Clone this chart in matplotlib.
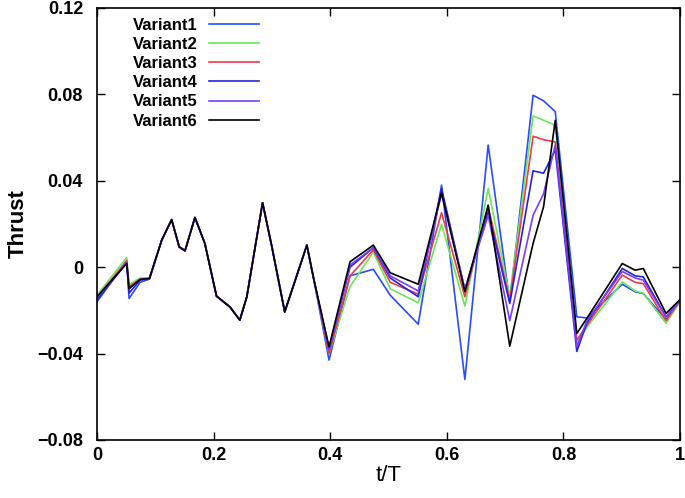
import matplotlib
matplotlib.use("Agg")
import matplotlib.pyplot as plt

# t/T sample points shared by all variants
t = [0, 0.051, 0.055, 0.074, 0.090, 0.111, 0.128, 0.141, 0.151, 0.168, 0.185,
     0.205, 0.228, 0.245, 0.257, 0.284, 0.300, 0.322, 0.360, 0.371, 0.398,
     0.434, 0.474, 0.503, 0.551, 0.591, 0.631, 0.671, 0.708, 0.748, 0.766,
     0.786, 0.823, 0.840, 0.901, 0.923, 0.937, 0.976, 1.0]

# common first part (t = 0.111 .. 0.371)
mid = [0.0125, 0.022, 0.0094, 0.0076, 0.023, 0.011, -0.0134, -0.0184,
       -0.0245, -0.0137, 0.0298, 0.0094, -0.0207, 0.0102, -0.0045]

variant1 = [-0.016, 0.003, -0.0145, -0.007, -0.0055] + mid + [
    -0.043, -0.004, -0.001, -0.013, -0.0264, 0.038, -0.052, 0.0565, -0.016,
    0.0796, 0.077, 0.072, -0.023, -0.0235, -0.0079, -0.0114, -0.0122, -0.0242, -0.016]
variant2 = [-0.013, 0.0045, -0.008, -0.005, -0.005] + mid + [
    -0.040, -0.009, 0.007, -0.010, -0.0165, 0.0199, -0.018, 0.0364, -0.0137,
    0.070, 0.068, 0.0657, -0.0353, -0.028, -0.0068, -0.011, -0.012, -0.026, -0.016]
variant3 = [-0.014, 0.003, -0.009, -0.0055, -0.0052] + mid + [
    -0.040, -0.004, 0.008, -0.007, -0.0125, 0.0252, -0.0137, 0.028, -0.0153,
    0.0606, 0.059, 0.058, -0.0338, -0.027, -0.0037, -0.007, -0.0076, -0.0248, -0.0155]
variant4 = [-0.015, 0.002, -0.012, -0.006, -0.0053] + mid + [
    -0.038, 0.000, 0.009, -0.005, -0.0137, 0.0364, -0.0103, 0.0256, -0.0168,
    0.0446, 0.0435, 0.0542, -0.039, -0.026, -0.0006, -0.004, -0.0045, -0.023, -0.0155]
variant5 = [-0.014, 0.002, -0.010, -0.0058, -0.0052] + mid + [
    -0.038, 0.001, 0.009, -0.004, -0.011, 0.034, -0.0105, 0.024, -0.0248,
    0.024, 0.034, 0.0565, -0.0369, -0.025, -0.002, -0.005, -0.006, -0.023, -0.0155]
variant6 = [-0.0137, 0.0017, -0.0099, -0.0057, -0.0052] + mid + [
    -0.0369, 0.0025, 0.0102, -0.0026, -0.0079, 0.0344, -0.0114, 0.0287, -0.0366,
    0.011, 0.028, 0.068, -0.0307, -0.0238, 0.0017, -0.0014, -0.0006, -0.0214, -0.015]

labels = ["Variant1", "Variant2", "Variant3", "Variant4", "Variant5", "Variant6"]
series = [variant1, variant2, variant3, variant4, variant5, variant6]
colors = ["#2a4bff", "#6ae85a", "#f03a4a", "#2222dd", "#7a3cff", "#000000"]

xticks = [0, 0.2, 0.4, 0.6, 0.8, 1.0]
xtick_labels = ["0", "0.2", "0.4", "0.6", "0.8", "1"]
yticks = [-0.08, -0.04, 0, 0.04, 0.08, 0.12]
ytick_labels = ["\u22120.08", "\u22120.04", "0", "0.04", "0.08", "0.12"]

plt.rcParams['font.family'] = ['Liberation Sans', 'DejaVu Sans']

fig = plt.figure(figsize=(6.85, 4.98), dpi=100)
ax = fig.add_axes([0.1416, 0.1165, 0.8511, 0.8675])

for vals, lab, col in zip(series, labels, colors):
    ax.plot(t, vals, color=col, lw=1.2, label=lab)

ax.set_xlim(0, 1)
ax.set_ylim(-0.08, 0.12)
ax.set_xticks(xticks)
ax.set_xticklabels(xtick_labels)
ax.set_yticks(yticks)
ax.set_yticklabels(ytick_labels)
ax.tick_params(direction="in", top=True, right=True, length=6, width=1,
               labelsize=13)
ax.tick_params(axis="x", pad=5)
ax.tick_params(axis="y", pad=10)
for lbl in ax.get_xticklabels() + ax.get_yticklabels():
    lbl.set_fontweight("bold")
for sp in ax.spines.values():
    sp.set_linewidth(1.2)

ax.set_xlabel("t/T", fontsize=16, labelpad=1)
ax.set_ylabel("Thrust", fontsize=16, fontweight="bold", labelpad=6)

leg = ax.legend(loc="upper left", bbox_to_anchor=(0.035, 1.012), frameon=False,
                markerfirst=False, handlelength=3.0, handletextpad=0.7,
                labelspacing=0.25, prop={"size": 12, "weight": "bold"})

fig.savefig("out.png", dpi=100)
